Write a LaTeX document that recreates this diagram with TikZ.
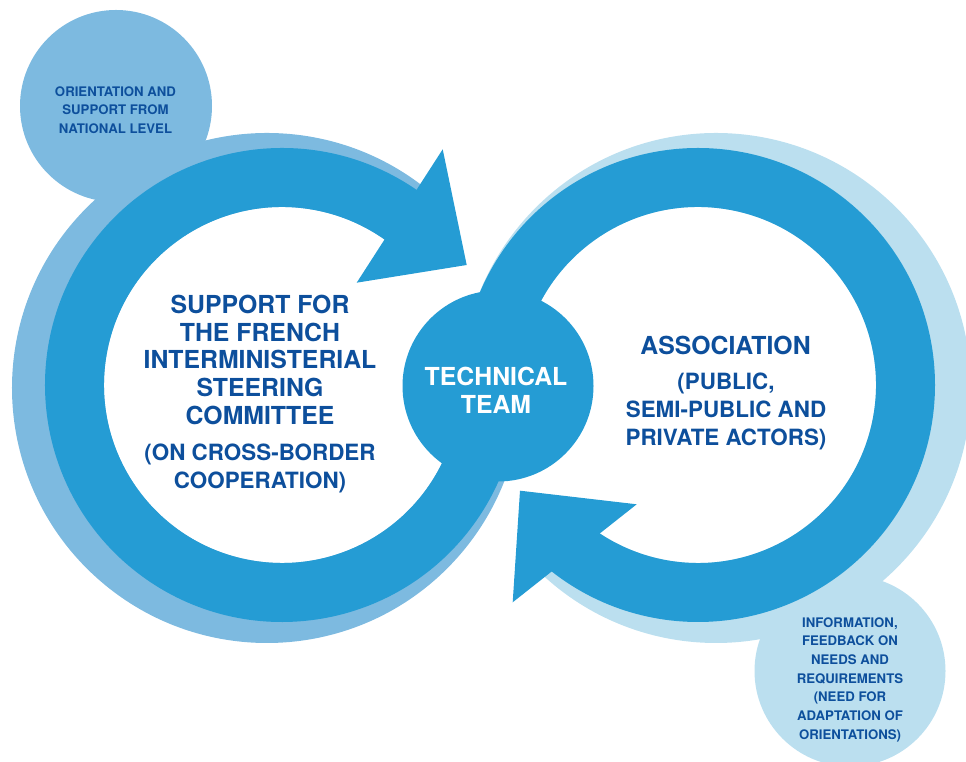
\documentclass[tikz,border=0pt]{standalone}
\usepackage{fontspec}
\setmainfont{TeX Gyre Heros}
\usetikzlibrary{calc}
\definecolor{ringblue}{HTML}{259CD4}
\definecolor{shadowA}{HTML}{7DBAE0}
\definecolor{shadowB}{HTML}{BBDFEF}
\definecolor{textblue}{HTML}{0D4F9C}
\begin{document}
\begin{tikzpicture}[x=1pt,y=1pt,
  smalltxt/.style={font=\fontsize{13.2}{15}\selectfont\bfseries, text=textblue, anchor=base, inner sep=0pt},
  bigtxt/.style={font=\fontsize{24.8}{28}\selectfont\bfseries, text=textblue, anchor=base, inner sep=0pt},
  midtxt/.style={font=\fontsize{22.4}{26}\selectfont\bfseries, text=textblue, anchor=base, inner sep=0pt},
  techtxt/.style={bigtxt, text=white},
  disc/.style={circle, inner sep=0pt, draw=none}]
\useasboundingbox (0,0) rectangle (966,762);
\coordinate (C1) at (282,377);
\coordinate (S1) at (267,374);
\coordinate (C2) at (698,377);
\coordinate (S2) at (716,374);

% small circles (behind)
\node[disc, fill=shadowA, minimum size=192pt] (natc) at (116,656) {};
\node[disc, fill=shadowB, minimum size=191pt] (infc) at (850,91) {};

% left shadow and ring
\fill[shadowA] ($(S1)+(47:255pt)$) arc[start angle=47, end angle=350, radius=255pt]
  -- ($(C1)+(350:178pt)$) arc[start angle=350, end angle=47, radius=178pt] -- cycle;
\fill[ringblue] ($(C1)+(52:237pt)$) arc[start angle=52, end angle=350, radius=237pt]
  -- ($(C1)+(350:178pt)$) arc[start angle=350, end angle=52, radius=178pt] -- cycle;
\coordinate (LU) at (442.7,612.7);
\coordinate (LT) at (466.7,497);
\coordinate (LL) at (356.7,479.3);
\fill[ringblue] (LU) -- (LT) -- (LL) -- cycle;

% right shadow and ring
\fill[shadowB] ($(S2)+(225:255pt)$) arc[start angle=225, end angle=525, radius=255pt]
  -- ($(C2)+(525:178pt)$) arc[start angle=525, end angle=225, radius=178pt] -- cycle;
\fill[ringblue] ($(C2)+(225:237pt)$) arc[start angle=225, end angle=530, radius=237pt]
  -- ($(C2)+(530:178pt)$) arc[start angle=530, end angle=225, radius=178pt] -- cycle;
\coordinate (RA) at (520,271.3);
\coordinate (RB) at (636.7,257.7);
\coordinate (RC) at (512.7,159.7);
\fill[ringblue] (RA) -- (RB) -- (RC) -- cycle;

% technical team
\node[disc, fill=ringblue, minimum size=191pt] (tech) at (498,376) {};
\node[techtxt] (tech1) at (496,376) {TECHNICAL};
\node[techtxt] (tech2) at (496,348.7) {TEAM};

% texts
\foreach \t [count=\i] in {{ORIENTATION AND}, {SUPPORT FROM}, {NATIONAL LEVEL}}
  \node[smalltxt] (nat\i) at (115.5, {665.3-18.3*(\i-1)}) {\t};

\foreach \t [count=\i] in {{SUPPORT FOR}, {THE FRENCH}, {INTERMINISTERIAL}, {STEERING}, {COMMITTEE}}
  \node[bigtxt] (sup\i) at (260, {448.7-27.75*(\i-1)}) {\t};
\node[midtxt] (on1) at (260,301.7) {(ON CROSS-BORDER};
\node[midtxt] (on2) at (260,273.7) {COOPERATION)};

\node[bigtxt] (assoc) at (725.5,407) {ASSOCIATION};
\foreach \t [count=\i] in {{(PUBLIC,}, {SEMI-PUBLIC AND}, {PRIVATE ACTORS)}}
  \node[midtxt] (pub\i) at (726, {372-27.7*(\i-1)}) {\t};

\foreach \t [count=\i] in {{INFORMATION,}, {FEEDBACK ON}, {NEEDS AND}, {REQUIREMENTS}, {(NEED FOR}, {ADAPTATION OF}, {ORIENTATIONS)}}
  \node[smalltxt] (inf\i) at (850, {134.7-18.65*(\i-1)}) {\t};
\end{tikzpicture}
\end{document}
